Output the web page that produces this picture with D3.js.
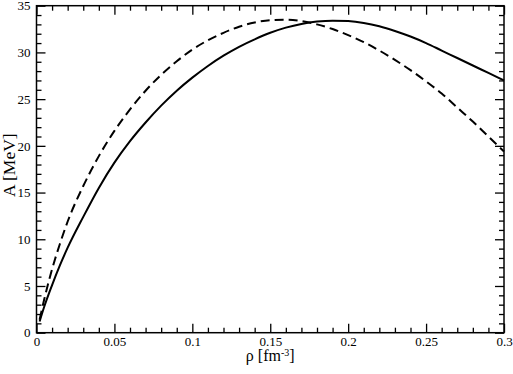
<!DOCTYPE html>
<html>
<head>
<meta charset="utf-8">
<script src="https://cdn.jsdelivr.net/npm/d3@7"></script>
<style>
	body { margin: 0; background: #fff; }
	.axis path { display: none; }
	.axis line { stroke: #000; stroke-width: 1.3; }
</style>
</head>
<body>
<div id="chart"></div>
<script>
// values
var rho = [0.002, 0.005, 0.01, 0.015, 0.02, 0.03, 0.04, 0.05, 0.06, 0.07, 0.08, 0.09, 0.10,
	0.11, 0.12, 0.13, 0.14, 0.15, 0.16, 0.17, 0.18, 0.19, 0.20, 0.21, 0.22, 0.23, 0.24,
	0.25, 0.26, 0.27, 0.28, 0.29, 0.30];
var solidA = [1.2, 2.8, 5.1, 7.2, 9.1, 12.4, 15.5, 18.2, 20.5, 22.5, 24.3, 25.9, 27.3,
	28.55, 29.65, 30.6, 31.4, 32.1, 32.65, 33.05, 33.3, 33.4, 33.35, 33.15, 32.8, 32.3, 31.7,
	31.0, 30.2, 29.4, 28.6, 27.8, 27.0];
var dashedA = [1.4, 3.6, 6.8, 9.5, 11.9, 15.7, 18.9, 21.6, 23.9, 25.9, 27.6, 29.05, 30.3,
	31.3, 32.1, 32.75, 33.2, 33.45, 33.5, 33.35, 33.0, 32.5, 31.85, 31.1, 30.2, 29.2, 28.1,
	26.9, 25.6, 24.1, 22.6, 21.0, 19.4];
var xTicks = [0, 0.05, 0.1, 0.15, 0.2, 0.25, 0.3];
var xTickLabels = ["0", "0.05", "0.1", "0.15", "0.2", "0.25", "0.3"];
var yTicks = [0, 5, 10, 15, 20, 25, 30, 35];

var serif = "'Liberation Serif', 'DejaVu Serif', serif";

var margin = {top: 5.7, right: 9, bottom: 41.3, left: 36.5};
var totalW = 513, totalH = 374;
var width = totalW - margin.left - margin.right;
var height = totalH - margin.top - margin.bottom;

var svg = d3.select("#chart").append("svg")
	.attr("width", totalW)
	.attr("height", totalH);

var g = svg.append("g")
	.attr("transform", "translate(" + margin.left + "," + margin.top + ")");

var x = d3.scaleLinear().domain([0, 0.3]).range([0, width]);
var y = d3.scaleLinear().domain([0, 35]).range([height, 0]);

var xMinor = d3.range(0, 0.3001, 0.01).filter(function(v) { return Math.abs(v * 20 - Math.round(v * 20)) > 1e-6; });
var yMinor = d3.range(0, 35.01, 1).filter(function(v) { return v % 5 != 0; });

// minor ticks, all four sides, pointing inward
g.append("g").attr("class", "axis").attr("transform", "translate(0," + height + ")")
	.call(d3.axisBottom(x).tickValues(xMinor).tickSize(-5).tickFormat(""));
g.append("g").attr("class", "axis")
	.call(d3.axisTop(x).tickValues(xMinor).tickSize(-5).tickFormat(""));
g.append("g").attr("class", "axis")
	.call(d3.axisLeft(y).tickValues(yMinor).tickSize(-5).tickFormat(""));
g.append("g").attr("class", "axis").attr("transform", "translate(" + width + ",0)")
	.call(d3.axisRight(y).tickValues(yMinor).tickSize(-5).tickFormat(""));

// major ticks
var xAxis = d3.axisBottom(x).tickValues(xTicks).tickSize(-9).tickPadding(4)
	.tickFormat(function(d, i) { return xTickLabels[i]; });
g.append("g").attr("class", "axis").attr("transform", "translate(0," + height + ")")
	.call(xAxis)
	.attr("font-family", serif).attr("font-size", 13);
g.append("g").attr("class", "axis")
	.call(d3.axisTop(x).tickValues(xTicks).tickSize(-9).tickFormat(""));
g.append("g").attr("class", "axis")
	.call(d3.axisLeft(y).tickValues(yTicks).tickSize(-9).tickPadding(6))
	.attr("font-family", serif).attr("font-size", 13);
g.append("g").attr("class", "axis").attr("transform", "translate(" + width + ",0)")
	.call(d3.axisRight(y).tickValues(yTicks).tickSize(-9).tickFormat(""));

g.selectAll(".axis text").attr("fill", "#000");

// frame
g.append("rect")
	.attr("width", width)
	.attr("height", height)
	.attr("fill", "none")
	.attr("stroke", "#000")
	.attr("stroke-width", 1.5);

var line = d3.line()
	.x(function(d) { return x(d[0]); })
	.y(function(d) { return y(d[1]); })
	.curve(d3.curveMonotoneX);

g.append("path")
	.datum(rho.map(function(r, i) { return [r, solidA[i]]; }))
	.attr("fill", "none")
	.attr("stroke", "#000")
	.attr("stroke-width", 2)
	.attr("d", line);

g.append("path")
	.datum(rho.map(function(r, i) { return [r, dashedA[i]]; }))
	.attr("fill", "none")
	.attr("stroke", "#000")
	.attr("stroke-width", 2)
	.attr("stroke-dasharray", "9,5")
	.attr("d", line);

// axis titles
var xt = svg.append("text")
	.attr("x", margin.left + width / 2)
	.attr("y", 361)
	.attr("text-anchor", "middle")
	.attr("font-family", serif)
	.attr("font-size", 16);
xt.append("tspan").text("ρ [fm");
xt.append("tspan").attr("dy", -5).attr("font-size", 10).text("-3");
xt.append("tspan").attr("dy", 5).text("]");

svg.append("text")
	.attr("transform", "translate(14.5," + (margin.top + height / 2 - 4) + ") rotate(-90)")
	.attr("text-anchor", "middle")
	.attr("font-family", serif)
	.attr("font-size", 17.5)
	.text("A [MeV]");
</script>
</body>
</html>
